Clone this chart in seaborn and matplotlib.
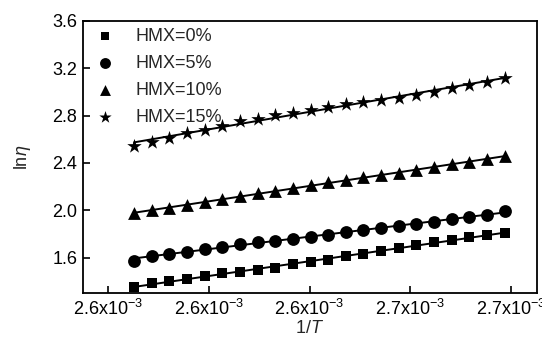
import numpy as np
import pandas as pd
import matplotlib
matplotlib.use("Agg")
import matplotlib.pyplot as plt
import seaborn as sns

# 1/T values (units of 1e-3 1/K)
inv_t = [2.6052, 2.6087, 2.6122, 2.6157, 2.6192, 2.6227, 2.6262, 2.6297, 2.6332, 2.6367, 2.6402,
         2.6437, 2.6472, 2.6507, 2.6542, 2.6577, 2.6612, 2.6647, 2.6682, 2.6717, 2.6752, 2.6787]

ln_eta_0 = [1.355, 1.382, 1.404, 1.423, 1.447, 1.467, 1.480, 1.491, 1.508, 1.545, 1.566,
            1.583, 1.610, 1.629, 1.654, 1.680, 1.706, 1.732, 1.752, 1.775, 1.789, 1.812]
ln_eta_5 = [1.571, 1.617, 1.634, 1.650, 1.674, 1.692, 1.715, 1.728, 1.742, 1.759, 1.777,
            1.793, 1.813, 1.834, 1.848, 1.868, 1.886, 1.902, 1.923, 1.942, 1.963, 1.993]
ln_eta_10 = [1.975, 2.000, 2.020, 2.041, 2.068, 2.094, 2.118, 2.145, 2.166, 2.189, 2.211,
             2.238, 2.255, 2.278, 2.298, 2.317, 2.343, 2.363, 2.388, 2.405, 2.430, 2.461]
ln_eta_15 = [2.542, 2.581, 2.607, 2.649, 2.678, 2.712, 2.751, 2.774, 2.806, 2.826, 2.851,
             2.874, 2.900, 2.917, 2.930, 2.951, 2.973, 3.002, 3.030, 3.058, 3.087, 3.121]

labels = ["HMX=0%", "HMX=5%", "HMX=10%", "HMX=15%"]
markers = ["s", "o", "^", "*"]
sizes = [55, 85, 85, 120]

x_ticks = [2.60, 2.62, 2.64, 2.66, 2.68]
x_tick_labels = ["2.6x10$^{-3}$", "2.6x10$^{-3}$", "2.6x10$^{-3}$", "2.7x10$^{-3}$", "2.7x10$^{-3}$"]
y_ticks = [1.6, 2.0, 2.4, 2.8, 3.2, 3.6]

sns.set_style("ticks")
plt.rcParams["font.family"] = ["Liberation Sans", "DejaVu Sans"]
plt.rcParams["mathtext.fontset"] = "custom"
plt.rcParams["mathtext.rm"] = "Liberation Sans"
plt.rcParams["mathtext.it"] = "Liberation Sans:italic"

fig = plt.figure(figsize=(5.42, 3.44), dpi=100)
ax = fig.add_axes([0.153, 0.148, 0.838, 0.791])

series = [ln_eta_0, ln_eta_5, ln_eta_10, ln_eta_15]
for vals, lab, mk, sz in zip(series, labels, markers, sizes):
    # scatter points plus least-squares line over the data range
    sns.regplot(x=inv_t, y=vals, ax=ax, ci=None, marker=mk, color="black",
                scatter_kws={"s": sz, "linewidths": 0, "alpha": 1},
                line_kws={"lw": 1.4}, label=lab)

ax.set_xlim(2.59504, 2.68516)
ax.set_ylim(1.3, 3.6)
ax.set_xticks(x_ticks)
ax.set_xticklabels(x_tick_labels)
ax.set_yticks(y_ticks)
ax.set_yticklabels([f"{v:.1f}" for v in y_ticks])
ax.tick_params(direction="in", length=5, width=1.2, labelsize=13, colors="black", pad=4)
for s in ax.spines.values():
    s.set_linewidth(1.3)
    s.set_color("black")
ax.set_xlabel("1/$T$", fontsize=13, labelpad=1)
ax.set_ylabel("ln$\\eta$", fontsize=13, labelpad=14)

handles, hl = ax.get_legend_handles_labels()
ax.legend(handles, hl, loc="upper left", bbox_to_anchor=(0.0, 1.02), frameon=False, fontsize=13,
          handlelength=1.0, handletextpad=1.2, labelspacing=0.55, borderaxespad=0.3,
          markerscale=0.85)

fig.savefig("out.png", dpi=100)
